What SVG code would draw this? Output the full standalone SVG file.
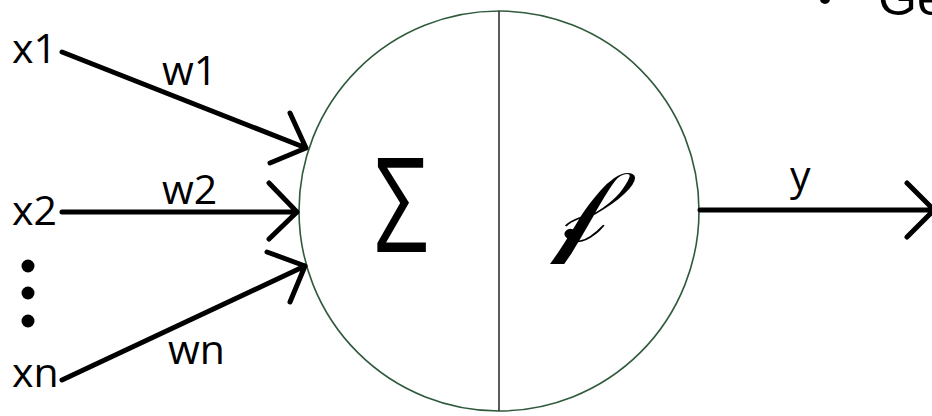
<svg xmlns="http://www.w3.org/2000/svg" width="932" height="416" viewBox="0 0 932 416">
<style>
.lbl{font-family:"Open Sans","Liberation Sans",sans-serif;font-size:41px;fill:#000}
.conn{stroke:#000;stroke-width:5;fill:none;stroke-linecap:round;stroke-linejoin:round}
</style>
<rect width="932" height="416" fill="#fff"/>
<g id="neuron">
<circle cx="499" cy="211" r="200" fill="none" stroke="#2f5a3c" stroke-width="1.6"/>
<line x1="499" y1="11" x2="499" y2="411" stroke="#333" stroke-width="1.6"/>
<text x="374" y="252" font-family="Open Sans,Liberation Sans,sans-serif" font-weight="500" font-size="132" textLength="54" lengthAdjust="spacingAndGlyphs">Σ</text>
<text transform="translate(550,242) scale(1.27,1.02)" x="0" y="0" font-family="DejaVu Serif,DejaVu Sans,serif" font-size="100">𝒻</text>
</g>
<g id="x1"><text class="lbl" x="12" y="63">x1</text></g>
<g id="x2"><text class="lbl" x="12" y="225">x2</text></g>
<g id="xn"><text class="lbl" x="12" y="387">xn</text></g>
<g id="dots">
<circle cx="28" cy="266" r="6.5"/>
<circle cx="28" cy="293" r="6.5"/>
<circle cx="28" cy="321" r="6.5"/>
</g>
<g id="connectors">
<path class="conn" d="M62 52 L306 148 M290 113 L306 148 L270 163"/>
<path class="conn" d="M62 212 L297 212 M269 183 L297 212 L269 239"/>
<path class="conn" d="M62 380 L305 266 M267 252 L305 266 L290 302"/>
<path class="conn" d="M700 210 L934 210 M907 183 L934 210 L907 237"/>
<text class="lbl" x="162" y="85">w1</text>
<text class="lbl" x="162" y="204">w2</text>
<text class="lbl" x="168" y="364">wn</text>
<text class="lbl" x="790" y="190">y</text>
</g>
<g id="header">
<text x="878" y="15" font-family="Liberation Sans,sans-serif" font-size="50">Ge</text>
<circle cx="825" cy="-1" r="5"/>
</g>
</svg>
